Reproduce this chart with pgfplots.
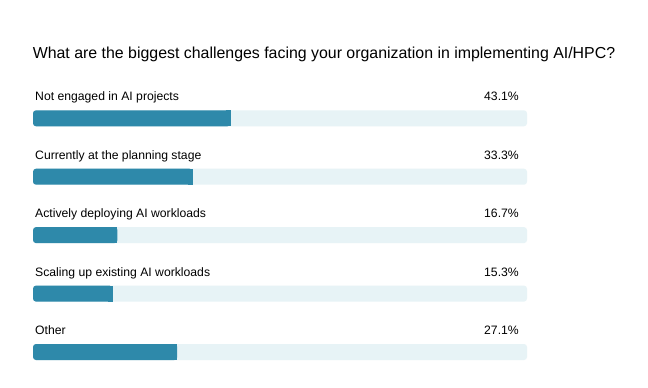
\documentclass[border=0pt]{standalone}
\usepackage{fontspec}
\setmainfont{Liberation Sans}
\usepackage{pgfplots}
\pgfplotsset{compat=1.18}
\usepackage{pgfplotstable}
\definecolor{barc}{HTML}{2E89AA}
\definecolor{trackc}{HTML}{E7F3F6}
\pgfplotstableread{
y     val   full
118.3 40.0  100
176.7 32.3  100
235.1 17.1  100
293.6 16.1  100
352.0 29.2  100
}\data
\begin{document}
\begin{tikzpicture}
\path[use as bounding box, fill=white] (0,0) rectangle (648pt,-388pt);
\node[anchor=base, font=\fontsize{15.9}{18}\selectfont, inner sep=0pt] at (324pt,-58.3pt) {What are the biggest challenges facing your organization in implementing AI/HPC?};
\begin{axis}[at={(33pt,0pt)}, anchor=north west, scale only axis,
  width=494pt, height=388pt, xmin=0, xmax=100, ymin=0, ymax=388,
  y dir=reverse, axis lines=none, clip=false]
\addplot[xbar, bar width=16pt, bar shift=0pt, fill=trackc, draw=none, rounded corners=3pt] table[x=full,y=y] {\data};
\addplot[xbar, bar width=16pt, bar shift=0pt, fill=barc, draw=none, rounded corners=3pt] table[x=val,y=y] {\data};
\addplot[draw=barc, line width=16pt, mark=none] coordinates {(39,118.3) (40.0,118.3)};
\addplot[draw=barc, line width=16pt, mark=none] coordinates {(31.3,176.7) (32.3,176.7)};
\addplot[draw=barc, line width=16pt, mark=none] coordinates {(16.1,235.1) (17.1,235.1)};
\addplot[draw=barc, line width=16pt, mark=none] coordinates {(15.1,293.6) (16.1,293.6)};
\addplot[draw=barc, line width=16pt, mark=none] coordinates {(28.2,352.0) (29.2,352.0)};
\begin{scope}[every node/.style={font=\fontsize{12.2}{14}\selectfont, inner sep=0pt}]
\node[anchor=base west, xshift=2pt] at (axis cs:0,100.7) {Not engaged in AI projects};
\node[anchor=base east, xshift=-8pt] at (axis cs:100,100.7) {43.1\%};
\node[anchor=base west, xshift=2pt] at (axis cs:0,159.1) {Currently at the planning stage};
\node[anchor=base east, xshift=-8pt] at (axis cs:100,159.1) {33.3\%};
\node[anchor=base west, xshift=2pt] at (axis cs:0,217.5) {Actively deploying AI workloads};
\node[anchor=base east, xshift=-8pt] at (axis cs:100,217.5) {16.7\%};
\node[anchor=base west, xshift=2pt] at (axis cs:0,276.0) {Scaling up existing AI workloads};
\node[anchor=base east, xshift=-8pt] at (axis cs:100,276.0) {15.3\%};
\node[anchor=base west, xshift=2pt] at (axis cs:0,334.4) {Other};
\node[anchor=base east, xshift=-8pt] at (axis cs:100,334.4) {27.1\%};
\end{scope}
\end{axis}
\end{tikzpicture}
\end{document}
